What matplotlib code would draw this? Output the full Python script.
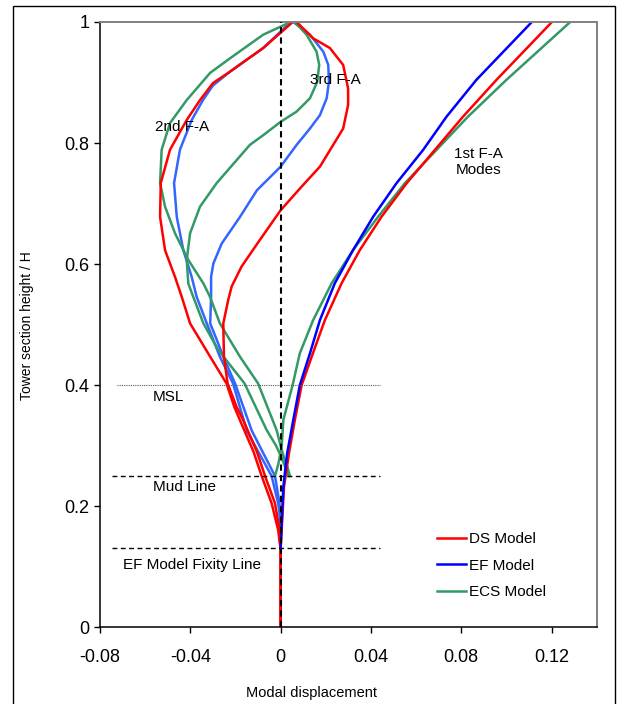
import matplotlib.pyplot as plt
from matplotlib.patches import Rectangle

plt.rcParams['font.family'] = ['Liberation Sans', 'DejaVu Sans']

# 1st fore-aft modes
ds1_h = [0, 0.131, 0.2323, 0.2875, 0.3425, 0.4, 0.4527, 0.5074, 0.5683, 0.6233, 0.6783, 0.7335, 0.7885, 0.8436, 0.9043, 1.0]
ds1_x = [0, 0, 0.0015, 0.0037, 0.0063, 0.0093, 0.0143, 0.0196, 0.0270, 0.0351, 0.0447, 0.0558, 0.0683, 0.0808, 0.0956, 0.1202]
ef1_h = [0.131, 0.2323, 0.2875, 0.3425, 0.4, 0.4527, 0.5074, 0.5683, 0.6233, 0.6783, 0.7335, 0.7885, 0.8436, 0.9043, 1.0]
ef1_x = [0, 0.0012, 0.0029, 0.0056, 0.0085, 0.0130, 0.0174, 0.0240, 0.0321, 0.0410, 0.0513, 0.0631, 0.0735, 0.0867, 0.1113]
ecs1_h = [0.25, 0.27, 0.30, 0.3425, 0.4, 0.4527, 0.5074, 0.5683, 0.6233, 0.6783, 0.7335, 0.7885, 0.8436, 0.9043, 1.0]
ecs1_x = [-0.0025, -0.001, 0.0005, 0.0012, 0.0053, 0.0085, 0.0144, 0.0226, 0.0321, 0.0432, 0.0550, 0.0690, 0.0830, 0.1000, 0.1283]

# 2nd fore-aft modes
ds2_h = [0, 0.128, 0.161, 0.205, 0.25, 0.29, 0.342, 0.364, 0.403, 0.447, 0.502, 0.546, 0.579, 0.623, 0.678,
         0.734, 0.789, 0.838, 0.871, 0.899, 0.918, 0.957, 1.0]
ds2_x = [0, 0, -0.0011, -0.0040, -0.0084, -0.0120, -0.0180, -0.0205, -0.0240, -0.0312, -0.0401, -0.0438, -0.0468,
         -0.0512, -0.0534, -0.0531, -0.0490, -0.0416, -0.0357, -0.0300, -0.0224, -0.0077, 0.0054]
ef2_h = [0.131, 0.177, 0.205, 0.25, 0.325, 0.403, 0.447, 0.502, 0.546, 0.579, 0.623, 0.678, 0.734, 0.789,
         0.838, 0.871, 0.895, 0.918, 0.957, 1.0]
ef2_x = [0, 0, -0.0011, -0.0040, -0.0150, -0.0211, -0.0269, -0.0327, -0.0372, -0.0394, -0.0431, -0.0460, -0.0472,
         -0.0446, -0.0394, -0.0344, -0.0300, -0.0224, -0.0077, 0.0045]
ecs2_h = [0.25, 0.265, 0.28, 0.30, 0.326, 0.403, 0.447, 0.502, 0.546, 0.568, 0.607, 0.651, 0.695, 0.734,
          0.789, 0.833, 0.871, 0.916, 0.940, 0.979, 1.0]
ecs2_x = [0.0041, 0.003, 0.0015, 0, -0.0018, -0.0100, -0.0180, -0.0269, -0.0313, -0.0342, -0.0409, -0.0468,
          -0.0512, -0.0534, -0.0527, -0.0490, -0.0416, -0.0312, -0.0224, -0.0077, 0.0045]

# 3rd fore-aft modes
ds3_h = [0, 0.128, 0.161, 0.205, 0.25, 0.29, 0.342, 0.364, 0.403, 0.447, 0.502, 0.541, 0.563, 0.596, 0.640,
         0.689, 0.728, 0.761, 0.797, 0.824, 0.863, 0.890, 0.929, 0.957, 0.973, 1.0]
ds3_x = [0, 0, -0.0005, -0.0025, -0.0069, -0.0105, -0.0165, -0.0195, -0.0235, -0.0251, -0.0254, -0.0232, -0.0217,
         -0.0173, -0.0092, 0, 0.0093, 0.0174, 0.0233, 0.0277, 0.0299, 0.0299, 0.0277, 0.0218, 0.0144, 0.0071]
ef3_h = [0.131, 0.205, 0.25, 0.325, 0.403, 0.447, 0.475, 0.502, 0.546, 0.579, 0.601, 0.634, 0.678, 0.722,
         0.761, 0.797, 0.824, 0.846, 0.874, 0.901, 0.929, 0.951, 0.979, 1.0]
ef3_x = [0, -0.0005, -0.0025, -0.0128, -0.0202, -0.0254, -0.0283, -0.0312, -0.0308, -0.0308, -0.0298, -0.0261,
         -0.0180, -0.0105, 0, 0.0071, 0.0130, 0.0174, 0.0204, 0.0214, 0.0211, 0.0189, 0.0130, 0.0056]
ecs3_h = [0.25, 0.265, 0.28, 0.30, 0.326, 0.403, 0.458, 0.502, 0.546, 0.568, 0.607, 0.651, 0.695, 0.734,
          0.797, 0.813, 0.835, 0.852, 0.874, 0.901, 0.929, 0.951, 0.979, 1.0]
ecs3_x = [0.0035, 0.002, 0.0005, -0.002, -0.0062, -0.0160, -0.0276, -0.0342, -0.0387, -0.0409, -0.0416, -0.0401,
          -0.0357, -0.0283, -0.0136, -0.0077, 0, 0.0071, 0.0130, 0.0162, 0.0171, 0.0159, 0.0115, 0.0063]

# reference levels (height / H) and their extent
msl_h, mud_h, fix_h = 0.4, 0.25, 0.131
ref_x = [-0.0746, 0.044]

red, blue, lblue, green = '#FF0000', '#0000FF', '#3366FF', '#339966'
lw = 1.8

fig = plt.figure(figsize=(6.24, 7.04), dpi=100)
ax = fig.add_axes([0.1603, 0.1089, 0.7959, 0.8599])

ax.plot(ef2_x, ef2_h, color=lblue, lw=lw)
ax.plot(ef3_x, ef3_h, color=lblue, lw=lw)
ax.plot(ecs2_x, ecs2_h, color=green, lw=lw)
ax.plot(ecs3_x, ecs3_h, color=green, lw=lw)
ax.plot(ds2_x, ds2_h, color=red, lw=lw)
ax.plot(ds3_x, ds3_h, color=red, lw=lw)
ax.plot(ecs1_x, ecs1_h, color=green, lw=lw)
ax.plot(ds1_x, ds1_h, color=red, lw=lw, label='DS Model')
ax.plot(ef1_x, ef1_h, color=blue, lw=lw, label='EF Model')
# dummy handle so the legend order is DS, EF, ECS
ax.plot([], [], color=green, lw=lw, label='ECS Model')

# reference lines
ax.plot([0, 0], [0, 1], color='black', lw=1.5, ls=(0, (3, 2)), zorder=5)
ax.plot([-0.0726, 0.0439], [msl_h, msl_h], color='0.35', lw=0.8, ls=(0, (1, 1)))
ax.plot(ref_x, [mud_h, mud_h], color='black', lw=1.0, ls=(0, (3.5, 2.5)))
ax.plot(ref_x, [fix_h, fix_h], color='black', lw=1.0, ls=(0, (3.5, 2.5)))

ax.text(-0.0555, 0.826, '2nd F-A', fontsize=11, va='center')
ax.text(0.0130, 0.904, '3rd F-A', fontsize=11, va='center')
ax.text(0.0877, 0.769, '1st F-A\nModes', fontsize=11, ha='center', va='center', multialignment='center')
ax.text(-0.0565, 0.381, 'MSL', fontsize=11, va='center')
ax.text(-0.0565, 0.232, 'Mud Line', fontsize=11, va='center')
ax.text(-0.0698, 0.103, 'EF Model Fixity Line', fontsize=11, va='center')

ax.set_xlim(-0.08, 0.14)
ax.set_ylim(0, 1)
ax.set_xticks([-0.08, -0.04, 0, 0.04, 0.08, 0.12])
ax.set_xticklabels(['-0.08', '-0.04', '0', '0.04', '0.08', '0.12'])
ax.set_yticks([0, 0.2, 0.4, 0.6, 0.8, 1.0])
ax.set_yticklabels(['0', '0.2', '0.4', '0.6', '0.8', '1'])
ax.tick_params(axis='both', labelsize=13, direction='out', length=4.5, width=1)
ax.tick_params(axis='x', pad=11)
ax.tick_params(axis='y', pad=3)
for s in ['left', 'bottom']:
    ax.spines[s].set_color('black')
    ax.spines[s].set_linewidth(1.1)
for s in ['top', 'right']:
    ax.spines[s].set_color('#808080')
    ax.spines[s].set_linewidth(1.4)

ax.legend(loc='upper left', bbox_to_anchor=(0.678, 0.157), frameon=False, fontsize=11,
          handlelength=1.9, handletextpad=0.2, labelspacing=0.82, borderpad=0, borderaxespad=0)

fig.text(0.5, 1 - 693 / 704, 'Modal displacement', fontsize=10.5, ha='center', va='center')
fig.text(27 / 624, 1 - 326 / 704, 'Tower section height / H', fontsize=10, rotation=90,
         ha='center', va='center')

fig.patches.append(Rectangle((12.7 / 624, -0.02), (615 - 12.7) / 624, 1.02 - 6.3 / 704,
                             transform=fig.transFigure, fill=False, edgecolor='black', lw=1.0))

plt.savefig('out.png')
